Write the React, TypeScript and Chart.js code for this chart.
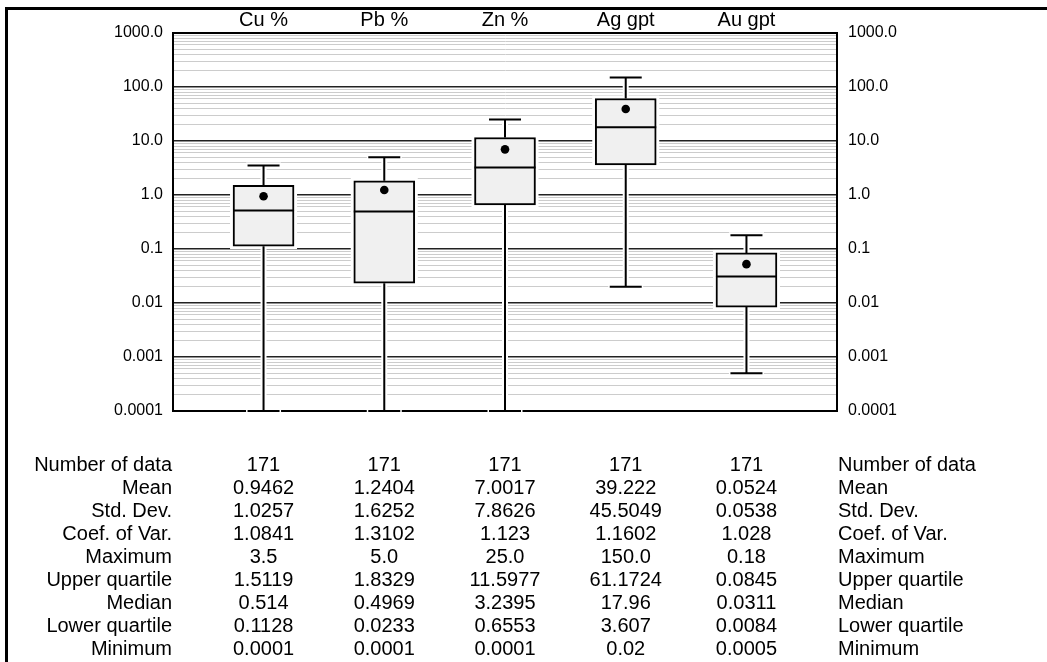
import React, { useEffect, useRef } from 'react';
import { Chart, registerables } from 'chart.js';

Chart.register(...registerables);

// ---- data ----
const CATEGORIES = ['Cu %', 'Pb %', 'Zn %', 'Ag gpt', 'Au gpt'];
const NUMBER_OF_DATA = ['171', '171', '171', '171', '171'];
const MEAN = ['0.9462', '1.2404', '7.0017', '39.222', '0.0524'];
const STD_DEV = ['1.0257', '1.6252', '7.8626', '45.5049', '0.0538'];
const COEF_VAR = ['1.0841', '1.3102', '1.123', '1.1602', '1.028'];
const MAXIMUM = ['3.5', '5.0', '25.0', '150.0', '0.18'];
const UPPER_QUARTILE = ['1.5119', '1.8329', '11.5977', '61.1724', '0.0845'];
const MEDIAN = ['0.514', '0.4969', '3.2395', '17.96', '0.0311'];
const LOWER_QUARTILE = ['0.1128', '0.0233', '0.6553', '3.607', '0.0084'];
const MINIMUM = ['0.0001', '0.0001', '0.0001', '0.02', '0.0005'];

const ROW_LABELS = [
  'Number of data',
  'Mean',
  'Std. Dev.',
  'Coef. of Var.',
  'Maximum',
  'Upper quartile',
  'Median',
  'Lower quartile',
  'Minimum',
];
const TABLE_ROWS = [
  NUMBER_OF_DATA,
  MEAN,
  STD_DEV,
  COEF_VAR,
  MAXIMUM,
  UPPER_QUARTILE,
  MEDIAN,
  LOWER_QUARTILE,
  MINIMUM,
];

const Y_TICK_VALUES = [0.0001, 0.001, 0.01, 0.1, 1, 10, 100, 1000];
const Y_TICK_LABELS = ['0.0001', '0.001', '0.01', '0.1', '1.0', '10.0', '100.0', '1000.0'];
const MINOR_STEPS = [2, 3, 4, 5, 6, 7, 8, 9];

// ---- styles ----
const FONT = '"Liberation Sans", Arial, Helvetica, sans-serif';
const BOX_FILL = '#f0f0f0';
const MAJOR_GRID = '#222222';
const MINOR_GRID = '#cccccc';
const CAP_HALF = 16;
const BOX_WIDTH = 61;

const num = (a: string[]) => a.map(Number);
const meanN = num(MEAN);
const maxN = num(MAXIMUM);
const uqN = num(UPPER_QUARTILE);
const medN = num(MEDIAN);
const lqN = num(LOWER_QUARTILE);
const minN = num(MINIMUM);

function buildLogTicks(scale: any) {
  const ticks: any[] = [];
  Y_TICK_VALUES.forEach((v, i) => {
    ticks.push({ value: v, major: true });
    if (i < Y_TICK_VALUES.length - 1) {
      MINOR_STEPS.forEach((m) => ticks.push({ value: v * m, major: false }));
    }
  });
  scale.ticks = ticks;
}

function labelFor(v: number) {
  const idx = Y_TICK_VALUES.findIndex((t) => Math.abs(t - v) / t < 1e-6);
  return idx >= 0 ? Y_TICK_LABELS[idx] : '';
}

function isEdge(v: number) {
  return (
    Math.abs(v - Y_TICK_VALUES[0]) / Y_TICK_VALUES[0] < 1e-6 ||
    Math.abs(v - Y_TICK_VALUES[Y_TICK_VALUES.length - 1]) < 1e-6
  );
}

const boxPlugin = {
  id: 'boxExtras',
  beforeDatasetsDraw(chart: any) {
    const { ctx } = chart;
    const xs = chart.scales.x;
    const ys = chart.scales.y;
    ctx.save();
    ctx.strokeStyle = '#ffffff';
    ctx.lineWidth = 6;
    ctx.lineCap = 'butt';
    CATEGORIES.forEach((_, i) => {
      const px = xs.getPixelForValue(i + 1);
      const yMax = ys.getPixelForValue(maxN[i]);
      const yQ3 = ys.getPixelForValue(uqN[i]);
      const yQ1 = ys.getPixelForValue(lqN[i]);
      const yMin = ys.getPixelForValue(minN[i]);
      ctx.beginPath();
      ctx.moveTo(px, yQ3);
      ctx.lineTo(px, yMax - 2);
      ctx.moveTo(px - CAP_HALF - 1.5, yMax);
      ctx.lineTo(px + CAP_HALF + 1.5, yMax);
      ctx.moveTo(px, yQ1);
      ctx.lineTo(px, yMin + 2);
      ctx.moveTo(px - CAP_HALF - 1.5, yMin);
      ctx.lineTo(px + CAP_HALF + 1.5, yMin);
      ctx.stroke();
      ctx.strokeRect(px - BOX_WIDTH / 2, yQ3, BOX_WIDTH, yQ1 - yQ3);
    });
    ctx.restore();
  },
  afterDatasetsDraw(chart: any) {
    const { ctx } = chart;
    const xs = chart.scales.x;
    const ys = chart.scales.y;
    ctx.save();
    ctx.strokeStyle = '#000000';
    ctx.lineWidth = 2;
    ctx.lineCap = 'butt';
    CATEGORIES.forEach((_, i) => {
      const px = xs.getPixelForValue(i + 1);
      const yMax = ys.getPixelForValue(maxN[i]);
      const yQ3 = ys.getPixelForValue(uqN[i]);
      const yMed = ys.getPixelForValue(medN[i]);
      const yQ1 = ys.getPixelForValue(lqN[i]);
      const yMin = ys.getPixelForValue(minN[i]);
      ctx.beginPath();
      ctx.moveTo(px, yQ3);
      ctx.lineTo(px, yMax);
      ctx.moveTo(px - CAP_HALF, yMax);
      ctx.lineTo(px + CAP_HALF, yMax);
      ctx.moveTo(px, yQ1);
      ctx.lineTo(px, yMin);
      ctx.moveTo(px - CAP_HALF, yMin);
      ctx.lineTo(px + CAP_HALF, yMin);
      ctx.moveTo(px - BOX_WIDTH / 2, yMed);
      ctx.lineTo(px + BOX_WIDTH / 2, yMed);
      ctx.stroke();
    });
    ctx.restore();
  },
};

const tablePlugin = {
  id: 'statsTable',
  afterDraw(chart: any) {
    const { ctx, chartArea } = chart;
    const xs = chart.scales.x;
    ctx.save();
    ctx.font = '20px ' + FONT;
    ctx.fillStyle = '#000000';
    ctx.textBaseline = 'alphabetic';
    TABLE_ROWS.forEach((row, r) => {
      const yy = chartArea.bottom + 59.5 + r * 23;
      ctx.textAlign = 'right';
      ctx.fillText(ROW_LABELS[r], chartArea.left - 1, yy);
      ctx.textAlign = 'left';
      ctx.fillText(ROW_LABELS[r], chartArea.right + 1, yy);
      ctx.textAlign = 'center';
      row.forEach((v, i) => ctx.fillText(v, xs.getPixelForValue(i + 1), yy));
    });
    ctx.restore();
  },
};

export default function App() {
  const canvasRef = useRef<HTMLCanvasElement | null>(null);

  useEffect(() => {
    if (!canvasRef.current) return;
    Chart.defaults.font.family = FONT;
    const chart = new Chart(canvasRef.current, {
      type: 'bar',
      data: {
        datasets: [
          {
            type: 'scatter',
            data: CATEGORIES.map((_, i) => ({ x: i + 1, y: meanN[i] })),
            pointRadius: 4.3,
            pointBackgroundColor: '#000000',
            pointBorderColor: '#000000',
            pointBorderWidth: 0,
            order: 0,
          } as any,
          {
            type: 'bar',
            data: CATEGORIES.map((_, i) => ({ x: i + 1, y: [lqN[i], uqN[i]] })),
            backgroundColor: BOX_FILL,
            borderColor: '#000000',
            borderWidth: 2,
            borderSkipped: false,
            barThickness: BOX_WIDTH,
            order: 1,
          } as any,
        ],
      },
      options: {
        animation: false,
        responsive: false,
        devicePixelRatio: 1,
        events: [],
        layout: { padding: { left: 0, right: 0, top: 0, bottom: 662 - 411 } },
        plugins: {
          legend: { display: false },
          tooltip: { enabled: false },
          title: { display: false },
        },
        scales: {
          x: {
            type: 'linear',
            position: 'top',
            min: 0.25,
            max: 5.75,
            offset: false,
            grid: { display: false, drawTicks: false, offset: false },
            border: { display: false },
            afterBuildTicks: (s: any) => {
              s.ticks = CATEGORIES.map((_, i) => ({ value: i + 1 }));
            },
            afterFit: (s: any) => {
              s.height = 33;
            },
            ticks: {
              autoSkip: false,
              maxRotation: 0,
              padding: 1,
              color: '#000000',
              font: { size: 20, family: FONT },
              callback: (v: any) => CATEGORIES[Math.round(Number(v)) - 1] ?? '',
            },
          },
          y: {
            type: 'logarithmic',
            position: 'left',
            min: 0.0001,
            max: 1000,
            afterBuildTicks: buildLogTicks,
            afterFit: (s: any) => {
              s.width = 173;
            },
            grid: {
              drawTicks: false,
              color: (c: any) => (c.tick && c.tick.major ? (isEdge(c.tick.value) ? '#000000' : MAJOR_GRID) : MINOR_GRID),
              lineWidth: (c: any) => (c.tick && c.tick.major ? (isEdge(c.tick.value) ? 2 : 1.5) : 1),
            },
            border: { display: true, color: '#000000', width: 2 },
            ticks: {
              autoSkip: false,
              padding: 10,
              color: '#000000',
              font: { size: 16, family: FONT },
              callback: (v: any) => labelFor(Number(v)),
            },
          },
          y2: {
            type: 'logarithmic',
            position: 'right',
            min: 0.0001,
            max: 1000,
            afterBuildTicks: buildLogTicks,
            afterFit: (s: any) => {
              s.width = 1047 - 837;
            },
            grid: { display: false, drawTicks: false },
            border: { display: true, color: '#000000', width: 2 },
            ticks: {
              autoSkip: false,
              padding: 11,
              color: '#000000',
              font: { size: 16, family: FONT },
              callback: (v: any) => labelFor(Number(v)),
            },
          },
        },
      } as any,
      plugins: [boxPlugin, tablePlugin],
    });
    return () => chart.destroy();
  }, []);

  return (
    <div
      style={{
        position: 'absolute',
        left: 0,
        top: 0,
        width: 1047,
        height: 662,
        overflow: 'hidden',
        background: '#ffffff',
      }}
    >
      <div
        style={{
          position: 'absolute',
          left: 5,
          top: 7,
          width: 1200,
          height: 800,
          borderLeft: '3px solid #000',
          borderTop: '3px solid #000',
        }}
      />
      <canvas
        ref={canvasRef}
        width={1047}
        height={662}
        style={{ position: 'absolute', left: 0, top: 0, width: 1047, height: 662, display: 'block' }}
      />
    </div>
  );
}
